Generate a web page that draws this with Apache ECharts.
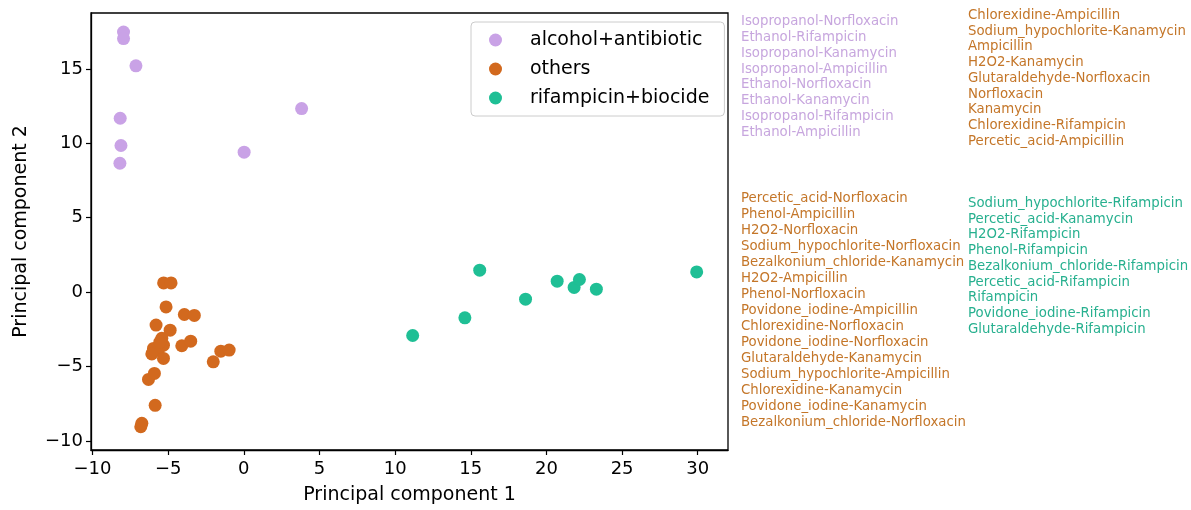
<!DOCTYPE html>
<html>
<head>
<meta charset="utf-8">
<title>PCA of treatment combinations</title>
<script src="https://cdn.jsdelivr.net/npm/echarts@6/dist/echarts.min.js"></script>
<style>
  html, body { margin: 0; padding: 0; background: #ffffff; }
  #chart { width: 1191px; height: 510px; }
</style>
</head>
<body>
<div id="chart"></div>
<script>
// PCA scores: [principal component 1, principal component 2]
const alcoholAntibiotic = [
  [-7.95, 17.47], [-7.95, 17.03], [-7.13, 15.20], [-8.17, 11.68],
  [-8.12, 9.85], [-8.19, 8.66], [0.02, 9.40], [3.82, 12.33]
];
const others = [
  [-5.30, 0.62], [-4.81, 0.62], [-5.14, -0.99], [-3.93, -1.50],
  [-3.27, -1.56], [-5.80, -2.21], [-4.87, -2.55], [-4.10, -3.60],
  [-3.51, -3.29], [-2.02, -4.68], [-1.52, -3.96], [-0.97, -3.89],
  [-6.30, -5.86], [-5.91, -5.46], [-5.86, -7.60], [-6.81, -9.04],
  [-6.74, -8.81], [-5.42, -3.10], [-5.31, -3.56], [-5.97, -3.78],
  [-5.65, -3.90], [-6.08, -4.15], [-5.31, -4.45], [-5.55, -3.35]
];
const rifampicinBiocide = [
  [11.16, -2.91], [14.61, -1.72], [15.59, 1.48], [18.62, -0.47],
  [20.71, 0.74], [21.83, 0.32], [22.18, 0.85], [23.30, 0.20],
  [29.93, 1.36]
];

const groupNames = ['alcohol+antibiotic', 'others', 'rifampicin+biocide'];
const xTicks = [-10, -5, 0, 5, 10, 15, 20, 25, 30];
const yTicks = [-10, -5, 0, 5, 10, 15];

// Sample names listed beside the plot, per group
const alcoholNames = [
  'Isopropanol-Norfloxacin', 'Ethanol-Rifampicin', 'Isopropanol-Kanamycin',
  'Isopropanol-Ampicillin', 'Ethanol-Norfloxacin', 'Ethanol-Kanamycin',
  'Isopropanol-Rifampicin', 'Ethanol-Ampicillin'
];
const othersNamesA = [
  'Chlorexidine-Ampicillin', 'Sodium_hypochlorite-Kanamycin', 'Ampicillin',
  'H2O2-Kanamycin', 'Glutaraldehyde-Norfloxacin', 'Norfloxacin',
  'Kanamycin', 'Chlorexidine-Rifampicin', 'Percetic_acid-Ampicillin'
];
const othersNamesB = [
  'Percetic_acid-Norfloxacin', 'Phenol-Ampicillin', 'H2O2-Norfloxacin',
  'Sodium_hypochlorite-Norfloxacin', 'Bezalkonium_chloride-Kanamycin',
  'H2O2-Ampicillin', 'Phenol-Norfloxacin', 'Povidone_iodine-Ampicillin',
  'Chlorexidine-Norfloxacin', 'Povidone_iodine-Norfloxacin',
  'Glutaraldehyde-Kanamycin', 'Sodium_hypochlorite-Ampicillin',
  'Chlorexidine-Kanamycin', 'Povidone_iodine-Kanamycin',
  'Bezalkonium_chloride-Norfloxacin'
];
const rifampicinNames = [
  'Sodium_hypochlorite-Rifampicin', 'Percetic_acid-Kanamycin', 'H2O2-Rifampicin',
  'Phenol-Rifampicin', 'Bezalkonium_chloride-Rifampicin', 'Percetic_acid-Rifampicin',
  'Rifampicin', 'Povidone_iodine-Rifampicin', 'Glutaraldehyde-Rifampicin'
];

const markerColors = ['#c9a2e6', '#d2691e', '#1fbf95'];
const textColors = ['#c7a6de', '#c47629', '#27b08f'];
const FONT = 'DejaVu Sans';

const minus = v => String(v).replace('-', '\u2212');

// Column of name labels drawn as text graphics
function nameColumn(names, left, top, color, lineH) {
  return names.map((n, i) => ({
    type: 'text',
    left: left,
    top: top + i * lineH,
    style: { text: n, fill: color, font: '13.3px "' + FONT + '"' },
    silent: true
  }));
}

const chart = echarts.init(document.getElementById('chart'), null, { renderer: 'canvas' });

const seriesData = [alcoholAntibiotic, others, rifampicinBiocide];

chart.setOption({
  animation: false,
  backgroundColor: '#ffffff',
  textStyle: { fontFamily: FONT },
  grid: {
    left: 91, right: 463, top: 13, bottom: 59,
    show: true, borderColor: '#000000', borderWidth: 1.3, containLabel: false
  },
  xAxis: {
    type: 'value',
    min: -10.1, max: 32.0,
    splitLine: { show: false },
    axisLine: { show: true, onZero: false, lineStyle: { color: '#000', width: 1.3 } },
    axisTick: { show: true, length: 5, lineStyle: { color: '#000', width: 1.2 }, customValues: xTicks },
    axisLabel: {
      customValues: xTicks, color: '#000', fontSize: 18, margin: 10, fontFamily: FONT,
      formatter: minus
    },
    name: 'Principal component 1',
    nameLocation: 'middle', nameGap: 36,
    nameTextStyle: { color: '#000', fontSize: 19, fontFamily: FONT }
  },
  yAxis: {
    type: 'value',
    min: -10.6, max: 18.75,
    splitLine: { show: false },
    axisLine: { show: true, onZero: false, lineStyle: { color: '#000', width: 1.3 } },
    axisTick: { show: true, length: 5, lineStyle: { color: '#000', width: 1.2 }, customValues: yTicks },
    axisLabel: {
      customValues: yTicks, color: '#000', fontSize: 18, margin: 8, fontFamily: FONT,
      formatter: minus
    },
    name: 'Principal component 2',
    nameLocation: 'middle', nameGap: 60,
    nameTextStyle: { color: '#000', fontSize: 19, fontFamily: FONT }
  },
  legend: {
    orient: 'vertical',
    left: 471, top: 22,
    padding: [8, 15, 8, 18],
    itemWidth: 13, itemHeight: 13,
    itemGap: 9,
    icon: 'circle',
    backgroundColor: '#ffffff',
    borderColor: '#cccccc', borderWidth: 1, borderRadius: 4,
    textStyle: { color: '#000', fontSize: 19, fontFamily: FONT, lineHeight: 20, padding: [0, 0, 0, 23] },
    data: groupNames
  },
  series: groupNames.map((name, i) => ({
    name: name,
    type: 'scatter',
    symbol: 'circle',
    symbolSize: 13,
    itemStyle: { color: markerColors[i], opacity: 1 },
    data: seriesData[i]
  })),
  graphic: [].concat(
    nameColumn(alcoholNames, 741, 15, textColors[0], 15.85),
    nameColumn(othersNamesA, 968, 9, textColors[1], 15.75),
    nameColumn(othersNamesB, 741, 192, textColors[1], 16.0),
    nameColumn(rifampicinNames, 968, 197, textColors[2], 15.75)
  )
});
</script>
</body>
</html>
